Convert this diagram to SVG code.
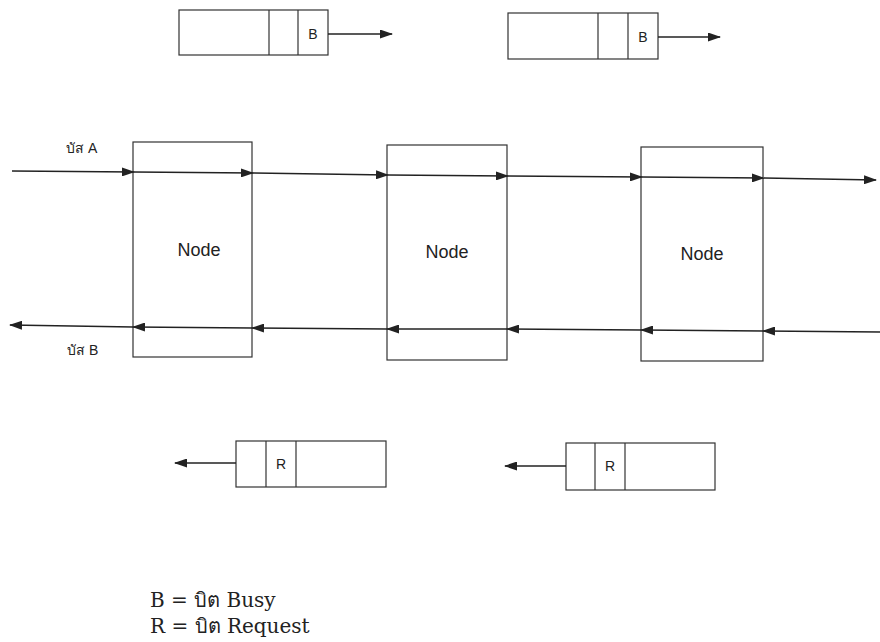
<svg xmlns="http://www.w3.org/2000/svg" width="880" height="642" viewBox="0 0 880 642">
<style>
.box{fill:none;stroke:#333;stroke-width:1.2}
.ln{stroke:#222;stroke-width:1.5;fill:none}
.t{font-family:"Liberation Sans","Noto Sans",sans-serif;fill:#222}
.lg{font-family:"DejaVu Serif","Liberation Serif",serif;fill:#222;font-size:20px}
</style>
<defs>
<marker id="ah" markerWidth="13" markerHeight="9" refX="12" refY="4.5" orient="auto" markerUnits="userSpaceOnUse">
<path d="M0,0 L13,4.5 L0,9 Z" fill="#222"/>
</marker>
</defs>
<rect width="880" height="642" fill="#fff"/>
<g id="packet-b1">
<rect class="box" x="179" y="10" width="149" height="45"/>
<line class="box" x1="269" y1="10" x2="269" y2="55"/>
<line class="box" x1="298" y1="10" x2="298" y2="55"/>
<text class="t" x="313" y="39" font-size="14" text-anchor="middle">B</text>
</g>
<g id="packet-b2">
<rect class="box" x="508" y="13" width="150" height="46"/>
<line class="box" x1="598" y1="13" x2="598" y2="59"/>
<line class="box" x1="628" y1="13" x2="628" y2="59"/>
<text class="t" x="643" y="42" font-size="14" text-anchor="middle">B</text>
</g>
<g id="node1">
<rect class="box" x="133" y="142" width="119" height="215"/>
<text class="t" x="199" y="256" font-size="18" text-anchor="middle">Node</text>
</g>
<g id="node2">
<rect class="box" x="387" y="145" width="120" height="215"/>
<text class="t" x="447" y="258" font-size="18" text-anchor="middle">Node</text>
</g>
<g id="node3">
<rect class="box" x="641" y="147" width="122" height="214"/>
<text class="t" x="702" y="260" font-size="18" text-anchor="middle">Node</text>
</g>
<g id="packet-r1">
<rect class="box" x="236" y="441" width="150" height="46"/>
<line class="box" x1="266" y1="441" x2="266" y2="487"/>
<line class="box" x1="296" y1="441" x2="296" y2="487"/>
<text class="t" x="281" y="469" font-size="14" text-anchor="middle">R</text>
</g>
<g id="packet-r2">
<rect class="box" x="566" y="443" width="149" height="47"/>
<line class="box" x1="595" y1="443" x2="595" y2="490"/>
<line class="box" x1="625" y1="443" x2="625" y2="490"/>
<text class="t" x="610" y="471" font-size="14" text-anchor="middle">R</text>
</g>
<g id="connectors">
<line class="ln" x1="328" y1="34" x2="392" y2="34" marker-end="url(#ah)"/>
<line class="ln" x1="658" y1="37" x2="720" y2="37" marker-end="url(#ah)"/>
<line class="ln" x1="236" y1="463" x2="175" y2="463" marker-end="url(#ah)"/>
<line class="ln" x1="566" y1="466" x2="505" y2="466" marker-end="url(#ah)"/>
<line class="ln" x1="12" y1="171" x2="134" y2="172" marker-end="url(#ah)"/>
<line class="ln" x1="134" y1="172" x2="253" y2="173" marker-end="url(#ah)"/>
<line class="ln" x1="253" y1="173" x2="388" y2="175" marker-end="url(#ah)"/>
<line class="ln" x1="388" y1="175" x2="508" y2="176" marker-end="url(#ah)"/>
<line class="ln" x1="508" y1="176" x2="642" y2="177" marker-end="url(#ah)"/>
<line class="ln" x1="642" y1="177" x2="764" y2="178" marker-end="url(#ah)"/>
<line class="ln" x1="764" y1="178" x2="876" y2="180" marker-end="url(#ah)"/>
<line class="ln" x1="880" y1="332" x2="763" y2="331" marker-end="url(#ah)"/>
<line class="ln" x1="763" y1="331" x2="641" y2="330" marker-end="url(#ah)"/>
<line class="ln" x1="641" y1="330" x2="507" y2="329" marker-end="url(#ah)"/>
<line class="ln" x1="507" y1="329" x2="387" y2="329" marker-end="url(#ah)"/>
<line class="ln" x1="387" y1="329" x2="252" y2="328" marker-end="url(#ah)"/>
<line class="ln" x1="252" y1="328" x2="133" y2="327" marker-end="url(#ah)"/>
<line class="ln" x1="133" y1="327" x2="10" y2="325" marker-end="url(#ah)"/>
</g>
<text class="t" x="66" y="153" font-size="14">บัส A</text>
<text class="t" x="67" y="355" font-size="14">บัส B</text>
<text class="lg" x="150" y="607">B = บิต Busy</text>
<text class="lg" x="150" y="633">R = บิต Request</text>
</svg>
